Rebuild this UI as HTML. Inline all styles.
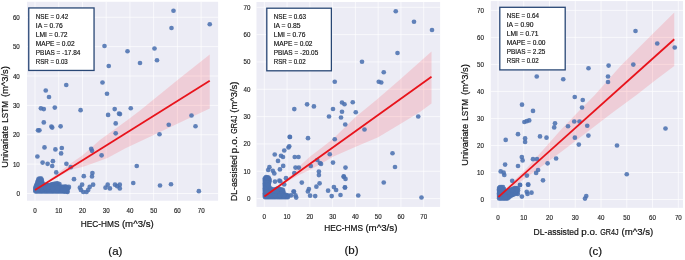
<!DOCTYPE html>
<html><head><meta charset="utf-8"><title>Scatter comparison</title>
<style>
html,body{margin:0;padding:0;background:#fff;}
body{width:685px;height:260px;overflow:hidden;}
svg{display:block;}
text{font-family:"Liberation Sans", sans-serif;fill:#262626;}
.tk{font-size:7px;fill:#1c1c1c;stroke:#1c1c1c;stroke-width:0.15px;}
.bx{font-size:6.3px;fill:#111;stroke:#111;stroke-width:0.15px;}
.lb{font-size:9.6px;fill:#111;stroke:#111;stroke-width:0.2px;}
.cp{font-size:11.5px;fill:#111;stroke:#111;stroke-width:0.2px;}
</style></head><body>
<svg width="685" height="260" viewBox="0 0 685 260">
<rect width="685" height="260" fill="#ffffff"/>
<g id="plot-a">
<rect x="27.0" y="1.8" width="191.1" height="198.9" fill="#ECECF5"/>
<path d="M35.00 1.8V200.7M58.73 1.8V200.7M82.46 1.8V200.7M106.19 1.8V200.7M129.92 1.8V200.7M153.65 1.8V200.7M177.38 1.8V200.7M201.11 1.8V200.7M27.0 193.50H218.1M27.0 164.13H218.1M27.0 134.76H218.1M27.0 105.39H218.1M27.0 76.02H218.1M27.0 46.65H218.1M27.0 17.28H218.1" stroke="#ffffff" stroke-width="0.8" stroke-opacity="0.85" fill="none"/>
<polygon points="35,189.2 50,179.3 57,174 64.8,167.8 70.6,163.4 82.3,155.4 92.5,146.5 99.9,140 127.5,120 140,110.5 180,78 209.75,54.5 209.75,108.5 180,122.5 150,136.8 126,148 107.5,158 92.5,163.4 82.3,167 71.9,169.5 65,173 55,178.8 35,190.8" fill="#ff2030" fill-opacity="0.15"/>
<g fill="#4C72B0" fill-opacity="0.88">
<circle cx="104.5" cy="46" r="2.35"/><circle cx="127.5" cy="51.25" r="2.35"/><circle cx="154.5" cy="48.5" r="2.35"/><circle cx="157" cy="60.25" r="2.35"/><circle cx="140" cy="63" r="2.35"/><circle cx="108.75" cy="66" r="2.35"/>
<circle cx="171.5" cy="28" r="2.35"/><circle cx="173.5" cy="10.75" r="2.35"/><circle cx="209.75" cy="24.25" r="2.35"/><circle cx="66.25" cy="85" r="2.35"/><circle cx="102.5" cy="82.5" r="2.35"/><circle cx="45.75" cy="90.5" r="2.35"/>
<circle cx="49" cy="97" r="2.35"/><circle cx="107" cy="93.75" r="2.35"/><circle cx="40.9" cy="108.3" r="2.35"/><circle cx="43.8" cy="109.1" r="2.35"/><circle cx="54.8" cy="107.6" r="2.35"/><circle cx="80.6" cy="110.2" r="2.35"/>
<circle cx="114.7" cy="109.1" r="2.35"/><circle cx="130.75" cy="108.25" r="2.35"/><circle cx="108.1" cy="114.9" r="2.35"/><circle cx="119" cy="113.7" r="2.35"/><circle cx="120" cy="114.1" r="2.35"/><circle cx="43.8" cy="122.4" r="2.35"/>
<circle cx="115.7" cy="123.4" r="2.35"/><circle cx="51.4" cy="126.6" r="2.35"/><circle cx="52.2" cy="127.6" r="2.35"/><circle cx="60.6" cy="126.3" r="2.35"/><circle cx="38" cy="130.3" r="2.35"/><circle cx="39.4" cy="130.3" r="2.35"/>
<circle cx="115.7" cy="133.3" r="2.35"/><circle cx="168.75" cy="124.75" r="2.35"/><circle cx="159.5" cy="134.25" r="2.35"/><circle cx="191.5" cy="115.5" r="2.35"/><circle cx="195.5" cy="126.25" r="2.35"/><circle cx="44.5" cy="147.4" r="2.35"/>
<circle cx="55.4" cy="149.4" r="2.35"/><circle cx="61.8" cy="148" r="2.35"/><circle cx="61.1" cy="153.4" r="2.35"/><circle cx="91.2" cy="148.8" r="2.35"/><circle cx="92" cy="150.8" r="2.35"/><circle cx="101.6" cy="155.3" r="2.35"/>
<circle cx="37.4" cy="156.5" r="2.35"/><circle cx="42.6" cy="162.6" r="2.35"/><circle cx="47.6" cy="163.8" r="2.35"/><circle cx="52.9" cy="161.2" r="2.35"/><circle cx="52.2" cy="166" r="2.35"/><circle cx="66.4" cy="163.8" r="2.35"/>
<circle cx="70.8" cy="167.2" r="2.35"/><circle cx="136.75" cy="166" r="2.35"/><circle cx="56.25" cy="172.4" r="2.35"/><circle cx="92.4" cy="173" r="2.35"/><circle cx="83.8" cy="176.2" r="2.35"/><circle cx="92" cy="176.4" r="2.35"/>
<circle cx="74" cy="179.2" r="2.35"/><circle cx="133.25" cy="183" r="2.35"/><circle cx="160" cy="185.5" r="2.35"/><circle cx="171" cy="184.25" r="2.35"/><circle cx="198.85" cy="191.15" r="2.35"/><circle cx="59.4" cy="184" r="2.35"/>
<circle cx="60.9" cy="186.9" r="2.35"/><circle cx="63.1" cy="188.4" r="2.35"/><circle cx="65.3" cy="186.9" r="2.35"/><circle cx="66.3" cy="190.6" r="2.35"/><circle cx="68.2" cy="188.4" r="2.35"/><circle cx="68.9" cy="186.9" r="2.35"/>
<circle cx="67.5" cy="192" r="2.35"/><circle cx="64.5" cy="191.3" r="2.35"/><circle cx="82.1" cy="184.7" r="2.35"/><circle cx="79.9" cy="187.7" r="2.35"/><circle cx="80.9" cy="189.9" r="2.35"/><circle cx="83.3" cy="192" r="2.35"/>
<circle cx="86.5" cy="192" r="2.35"/><circle cx="88.2" cy="189.9" r="2.35"/><circle cx="89.7" cy="186.9" r="2.35"/><circle cx="93.1" cy="184.7" r="2.35"/><circle cx="107.7" cy="184.7" r="2.35"/><circle cx="105.5" cy="187.7" r="2.35"/>
<circle cx="109.9" cy="188.4" r="2.35"/><circle cx="115" cy="184.7" r="2.35"/><circle cx="117.2" cy="186.2" r="2.35"/><circle cx="119.8" cy="184.7" r="2.35"/><circle cx="119.8" cy="188.4" r="2.35"/><circle cx="35.4" cy="191.3" r="2.35"/>
<circle cx="35.4" cy="190.0" r="2.35"/><circle cx="35.4" cy="188.8" r="2.35"/><circle cx="35.4" cy="187.5" r="2.35"/><circle cx="36.0" cy="186.1" r="2.35"/><circle cx="36.6" cy="184.6" r="2.35"/><circle cx="37.2" cy="183.2" r="2.35"/>
<circle cx="37.7" cy="181.8" r="2.35"/><circle cx="38.1" cy="180.3" r="2.35"/><circle cx="38.6" cy="178.9" r="2.35"/><circle cx="40.0" cy="178.5" r="2.35"/><circle cx="41.2" cy="178.7" r="2.35"/><circle cx="41.8" cy="180.0" r="2.35"/>
<circle cx="42.0" cy="181.5" r="2.35"/><circle cx="42.3" cy="183.0" r="2.35"/><circle cx="42.5" cy="184.5" r="2.35"/><circle cx="43.7" cy="184.7" r="2.35"/><circle cx="44.9" cy="184.9" r="2.35"/><circle cx="46.2" cy="185.2" r="2.35"/>
<circle cx="47.4" cy="185.4" r="2.35"/><circle cx="48.6" cy="185.6" r="2.35"/><circle cx="49.8" cy="185.2" r="2.35"/><circle cx="50.9" cy="184.8" r="2.35"/><circle cx="52.1" cy="184.4" r="2.35"/><circle cx="53.2" cy="184.0" r="2.35"/>
<circle cx="54.6" cy="183.8" r="2.35"/><circle cx="56.1" cy="183.6" r="2.35"/><circle cx="57.5" cy="183.4" r="2.35"/><circle cx="58.6" cy="185.5" r="2.35"/><circle cx="58.8" cy="186.8" r="2.35"/><circle cx="59.1" cy="188.0" r="2.35"/>
<circle cx="59.3" cy="189.3" r="2.35"/><circle cx="60.1" cy="188.2" r="2.35"/><circle cx="61.0" cy="187.0" r="2.35"/><circle cx="62.4" cy="186.9" r="2.35"/><circle cx="63.8" cy="186.9" r="2.35"/><circle cx="65.1" cy="186.9" r="2.35"/>
<circle cx="66.5" cy="186.8" r="2.35"/><circle cx="67.3" cy="188.0" r="2.35"/><circle cx="67.2" cy="189.7" r="2.35"/><circle cx="67.2" cy="191.3" r="2.35"/><circle cx="66.0" cy="191.3" r="2.35"/><circle cx="64.8" cy="191.3" r="2.35"/>
<circle cx="63.5" cy="191.3" r="2.35"/><circle cx="62.3" cy="191.3" r="2.35"/><circle cx="61.1" cy="191.3" r="2.35"/><circle cx="59.9" cy="191.3" r="2.35"/><circle cx="58.6" cy="191.3" r="2.35"/><circle cx="57.4" cy="191.3" r="2.35"/>
<circle cx="56.2" cy="191.3" r="2.35"/><circle cx="55.0" cy="191.3" r="2.35"/><circle cx="53.7" cy="191.3" r="2.35"/><circle cx="52.5" cy="191.3" r="2.35"/><circle cx="51.3" cy="191.3" r="2.35"/><circle cx="50.1" cy="191.3" r="2.35"/>
<circle cx="48.9" cy="191.3" r="2.35"/><circle cx="47.6" cy="191.3" r="2.35"/><circle cx="46.4" cy="191.3" r="2.35"/><circle cx="45.2" cy="191.3" r="2.35"/><circle cx="44.0" cy="191.3" r="2.35"/><circle cx="42.7" cy="191.3" r="2.35"/>
<circle cx="41.5" cy="191.3" r="2.35"/><circle cx="40.3" cy="191.3" r="2.35"/><circle cx="39.1" cy="191.3" r="2.35"/><circle cx="37.8" cy="191.3" r="2.35"/><circle cx="36.6" cy="191.3" r="2.35"/><circle cx="39.7" cy="189.3" r="2.35"/>
<circle cx="56.2" cy="188.6" r="2.35"/><circle cx="49.6" cy="187.7" r="2.35"/><circle cx="39.3" cy="182.8" r="2.35"/><circle cx="63.6" cy="189.3" r="2.35"/><circle cx="51.5" cy="186.0" r="2.35"/><circle cx="40.9" cy="185.5" r="2.35"/>
<circle cx="51.6" cy="188.5" r="2.35"/><circle cx="36.8" cy="187.5" r="2.35"/><circle cx="37.2" cy="189.6" r="2.35"/><circle cx="43.5" cy="189.3" r="2.35"/><circle cx="38.9" cy="186.5" r="2.35"/><circle cx="40.8" cy="182.0" r="2.35"/>
<circle cx="54.7" cy="189.0" r="2.35"/><circle cx="40.1" cy="187.7" r="2.35"/><circle cx="57.0" cy="185.5" r="2.35"/><circle cx="42.5" cy="186.8" r="2.35"/><circle cx="45.6" cy="186.6" r="2.35"/><circle cx="45.2" cy="189.5" r="2.35"/>
<circle cx="65.8" cy="189.9" r="2.35"/><circle cx="39.7" cy="185.6" r="2.35"/><circle cx="43.1" cy="188.0" r="2.35"/><circle cx="38.7" cy="190.2" r="2.35"/><circle cx="57.4" cy="187.0" r="2.35"/><circle cx="56.2" cy="186.7" r="2.35"/>
<circle cx="53.9" cy="186.1" r="2.35"/><circle cx="51.1" cy="189.5" r="2.35"/><circle cx="61.0" cy="190.1" r="2.35"/><circle cx="52.9" cy="185.4" r="2.35"/><circle cx="44.2" cy="186.8" r="2.35"/><circle cx="57.5" cy="189.4" r="2.35"/>
<circle cx="47.3" cy="187.5" r="2.35"/><circle cx="55.2" cy="185.3" r="2.35"/><circle cx="48.3" cy="189.5" r="2.35"/><circle cx="54.0" cy="187.9" r="2.35"/><circle cx="64.0" cy="188.1" r="2.35"/><circle cx="65.3" cy="188.5" r="2.35"/>
<circle cx="62.4" cy="188.3" r="2.35"/><circle cx="42.8" cy="185.7" r="2.35"/><circle cx="40.9" cy="188.6" r="2.35"/><circle cx="46.3" cy="189.2" r="2.35"/><circle cx="38.4" cy="183.6" r="2.35"/><circle cx="54.3" cy="190.1" r="2.35"/>
<circle cx="62.2" cy="190.1" r="2.35"/><circle cx="41.8" cy="189.8" r="2.35"/><circle cx="52.5" cy="190.0" r="2.35"/><circle cx="40.4" cy="183.2" r="2.35"/><circle cx="45.8" cy="188.1" r="2.35"/><circle cx="40.6" cy="186.6" r="2.35"/>
<circle cx="38.2" cy="185.4" r="2.35"/><circle cx="53.5" cy="189.3" r="2.35"/><circle cx="38.2" cy="189.1" r="2.35"/><circle cx="39.3" cy="181.1" r="2.35"/><circle cx="50.0" cy="189.2" r="2.35"/><circle cx="40.1" cy="179.9" r="2.35"/>
<circle cx="52.6" cy="187.1" r="2.35"/><circle cx="56.5" cy="190.2" r="2.35"/><circle cx="41.6" cy="187.5" r="2.35"/><circle cx="55.1" cy="187.2" r="2.35"/><circle cx="57.5" cy="188.2" r="2.35"/><circle cx="37.7" cy="186.7" r="2.35"/>
<circle cx="38.9" cy="187.7" r="2.35"/><circle cx="47.5" cy="188.7" r="2.35"/><circle cx="51.0" cy="187.3" r="2.35"/><circle cx="49.4" cy="186.6" r="2.35"/><circle cx="40.5" cy="184.4" r="2.35"/><circle cx="48.4" cy="187.2" r="2.35"/>
<circle cx="64.4" cy="190.2" r="2.35"/><circle cx="52.8" cy="188.4" r="2.35"/>
</g>
<line x1="35.05" y1="189.9" x2="209.75" y2="80.75" stroke="#e8131b" stroke-width="1.8" stroke-linecap="butt"/>
<rect x="28.75" y="7.95" width="65.3" height="62.5" fill="#ffffff" stroke="#294775" stroke-width="1.3"/>
<text class="bx" x="35.8" y="18.60" textLength="32.4" lengthAdjust="spacingAndGlyphs">NSE = 0.42</text>
<text class="bx" x="35.8" y="27.60" textLength="26.9" lengthAdjust="spacingAndGlyphs">IA = 0.76</text>
<text class="bx" x="35.8" y="36.60" textLength="31.8" lengthAdjust="spacingAndGlyphs">LMI = 0.72</text>
<text class="bx" x="35.8" y="45.60" textLength="38.8" lengthAdjust="spacingAndGlyphs">MAPE = 0.02</text>
<text class="bx" x="35.8" y="54.60" textLength="44.6" lengthAdjust="spacingAndGlyphs">PBIAS = -17.84</text>
<text class="bx" x="35.8" y="63.60" textLength="32.0" lengthAdjust="spacingAndGlyphs">RSR = 0.03</text>
<text class="tk" x="33.3" y="212.9" textLength="3.5" lengthAdjust="spacingAndGlyphs">0</text>
<text class="tk" x="55.3" y="212.9" textLength="6.9" lengthAdjust="spacingAndGlyphs">10</text>
<text class="tk" x="79.0" y="212.9" textLength="6.9" lengthAdjust="spacingAndGlyphs">20</text>
<text class="tk" x="102.7" y="212.9" textLength="6.9" lengthAdjust="spacingAndGlyphs">30</text>
<text class="tk" x="126.5" y="212.9" textLength="6.9" lengthAdjust="spacingAndGlyphs">40</text>
<text class="tk" x="150.2" y="212.9" textLength="6.9" lengthAdjust="spacingAndGlyphs">50</text>
<text class="tk" x="173.9" y="212.9" textLength="6.9" lengthAdjust="spacingAndGlyphs">60</text>
<text class="tk" x="197.7" y="212.9" textLength="6.9" lengthAdjust="spacingAndGlyphs">70</text>
<text class="tk" x="16.4" y="196.0" textLength="3.5" lengthAdjust="spacingAndGlyphs">0</text>
<text class="tk" x="12.9" y="166.6" textLength="6.9" lengthAdjust="spacingAndGlyphs">10</text>
<text class="tk" x="12.9" y="137.3" textLength="6.9" lengthAdjust="spacingAndGlyphs">20</text>
<text class="tk" x="12.9" y="107.9" textLength="6.9" lengthAdjust="spacingAndGlyphs">30</text>
<text class="tk" x="12.9" y="78.5" textLength="6.9" lengthAdjust="spacingAndGlyphs">40</text>
<text class="tk" x="12.9" y="49.2" textLength="6.9" lengthAdjust="spacingAndGlyphs">50</text>
<text class="tk" x="12.9" y="19.8" textLength="6.9" lengthAdjust="spacingAndGlyphs">60</text>
<text class="lb" y="227.4"><tspan x="80.7" textLength="38.8" lengthAdjust="spacingAndGlyphs">HEC-HMS</tspan> <tspan x="121.9" textLength="31.9" lengthAdjust="spacingAndGlyphs">(m^3/s)</tspan> </text>
<text class="lb" transform="translate(8.3,167.8) rotate(-90)" y="0"><tspan x="0.0" textLength="41.9" lengthAdjust="spacingAndGlyphs">Univariate</tspan> <tspan x="45.1" textLength="21.6" lengthAdjust="spacingAndGlyphs">LSTM</tspan> <tspan x="70.7" textLength="31.0" lengthAdjust="spacingAndGlyphs">(m^3/s)</tspan> </text>
<text class="cp" x="115.4" y="254.8" text-anchor="middle">(a)</text>
</g>
<g id="plot-b">
<rect x="256.5" y="2" width="183.6" height="204.9" fill="#ECECF5"/>
<path d="M264.30 2V206.9M287.07 2V206.9M309.84 2V206.9M332.61 2V206.9M355.38 2V206.9M378.15 2V206.9M400.92 2V206.9M423.69 2V206.9M256.5 198.60H440.1M256.5 171.27H440.1M256.5 143.94H440.1M256.5 116.61H440.1M256.5 89.28H440.1M256.5 61.95H440.1M256.5 34.62H440.1M256.5 7.29H440.1" stroke="#ffffff" stroke-width="0.8" stroke-opacity="0.85" fill="none"/>
<polygon points="264.4,196 280,184 291.9,174.5 299.2,166.5 309.5,157 320,149 332.9,139 355.5,117 376.3,100 400,79.5 431.5,51.5 431.5,103.5 420,112 401.1,123.4 378.2,137.3 356.3,146.5 332.9,156.8 318.2,165.5 309.5,170 300,174.5 290,180 280,186.5 264.4,197.3" fill="#ff2030" fill-opacity="0.15"/>
<g fill="#4C72B0" fill-opacity="0.88">
<circle cx="334.75" cy="81.75" r="2.35"/><circle cx="307.1" cy="104.3" r="2.35"/><circle cx="294.3" cy="109.1" r="2.35"/><circle cx="313.9" cy="106.4" r="2.35"/><circle cx="333" cy="109" r="2.35"/><circle cx="342" cy="102.5" r="2.35"/>
<circle cx="342" cy="111.75" r="2.35"/><circle cx="329" cy="116.5" r="2.35"/><circle cx="341" cy="117.5" r="2.35"/><circle cx="290" cy="137" r="2.35"/><circle cx="308" cy="138.2" r="2.35"/><circle cx="334.75" cy="139.25" r="2.35"/>
<circle cx="289.25" cy="146.25" r="2.35"/><circle cx="288.5" cy="147.5" r="2.35"/><circle cx="284.25" cy="150.5" r="2.35"/><circle cx="274.75" cy="154.5" r="2.35"/><circle cx="281" cy="155.75" r="2.35"/><circle cx="283" cy="157" r="2.35"/>
<circle cx="294.75" cy="157" r="2.35"/><circle cx="298.5" cy="157" r="2.35"/><circle cx="278" cy="160.9" r="2.35"/><circle cx="317.25" cy="160" r="2.35"/><circle cx="319.9" cy="163" r="2.35"/><circle cx="321" cy="163.9" r="2.35"/>
<circle cx="333" cy="162.6" r="2.35"/><circle cx="329.75" cy="154.25" r="2.35"/><circle cx="283.2" cy="165.9" r="2.35"/><circle cx="279.9" cy="169.4" r="2.35"/><circle cx="269.4" cy="167.2" r="2.35"/><circle cx="268.2" cy="170" r="2.35"/>
<circle cx="272.8" cy="170.8" r="2.35"/><circle cx="295.5" cy="167.6" r="2.35"/><circle cx="298.8" cy="167.6" r="2.35"/><circle cx="310.8" cy="166" r="2.35"/><circle cx="294.3" cy="173.1" r="2.35"/><circle cx="318.9" cy="171.5" r="2.35"/>
<circle cx="318.9" cy="175.1" r="2.35"/><circle cx="274.3" cy="173.4" r="2.35"/><circle cx="280.25" cy="181.25" r="2.35"/><circle cx="286" cy="178.2" r="2.35"/><circle cx="301.8" cy="182.6" r="2.35"/><circle cx="319.6" cy="183.3" r="2.35"/>
<circle cx="284.2" cy="184.5" r="2.35"/><circle cx="275" cy="181.6" r="2.35"/><circle cx="279.4" cy="180.5" r="2.35"/><circle cx="308.9" cy="189.1" r="2.35"/><circle cx="307.9" cy="191.4" r="2.35"/><circle cx="310.1" cy="195.7" r="2.35"/>
<circle cx="315.2" cy="196.1" r="2.35"/><circle cx="316.4" cy="186.7" r="2.35"/><circle cx="328.1" cy="190.7" r="2.35"/><circle cx="331.7" cy="196.1" r="2.35"/><circle cx="333.9" cy="187.1" r="2.35"/><circle cx="336.1" cy="190" r="2.35"/>
<circle cx="340.5" cy="195" r="2.35"/><circle cx="344.9" cy="187.4" r="2.35"/><circle cx="343.7" cy="176.4" r="2.35"/><circle cx="345.5" cy="178.9" r="2.35"/><circle cx="345.5" cy="167.6" r="2.35"/><circle cx="293.5" cy="191.5" r="2.35"/>
<circle cx="287.4" cy="196.1" r="2.35"/><circle cx="291" cy="195.4" r="2.35"/><circle cx="294" cy="191.7" r="2.35"/><circle cx="295.5" cy="195.4" r="2.35"/><circle cx="296.2" cy="197.6" r="2.35"/><circle cx="395.75" cy="11.25" r="2.35"/>
<circle cx="414" cy="21.75" r="2.35"/><circle cx="432" cy="30" r="2.35"/><circle cx="397.5" cy="53" r="2.35"/><circle cx="362" cy="61.75" r="2.35"/><circle cx="383.75" cy="72.25" r="2.35"/><circle cx="378.75" cy="81.75" r="2.35"/>
<circle cx="381.25" cy="82.5" r="2.35"/><circle cx="352.75" cy="102.25" r="2.35"/><circle cx="344.5" cy="104.25" r="2.35"/><circle cx="355.75" cy="112.25" r="2.35"/><circle cx="418.25" cy="116.5" r="2.35"/><circle cx="345.25" cy="124.5" r="2.35"/>
<circle cx="364.5" cy="129.5" r="2.35"/><circle cx="392.5" cy="153.25" r="2.35"/><circle cx="395" cy="167" r="2.35"/><circle cx="343.75" cy="176.75" r="2.35"/><circle cx="383.75" cy="182.5" r="2.35"/><circle cx="345" cy="187.5" r="2.35"/>
<circle cx="358.25" cy="195.5" r="2.35"/><circle cx="421.5" cy="197.5" r="2.35"/><circle cx="289.7" cy="136.9" r="2.35"/><circle cx="264.9" cy="178.3" r="2.35"/><circle cx="266.0" cy="177.2" r="2.35"/><circle cx="267.2" cy="177.4" r="2.35"/>
<circle cx="268.5" cy="177.6" r="2.35"/><circle cx="269.1" cy="178.8" r="2.35"/><circle cx="269.6" cy="180.0" r="2.35"/><circle cx="269.3" cy="181.3" r="2.35"/><circle cx="269.1" cy="182.7" r="2.35"/><circle cx="268.8" cy="184.0" r="2.35"/>
<circle cx="268.9" cy="185.8" r="2.35"/><circle cx="269.0" cy="187.5" r="2.35"/><circle cx="270.3" cy="188.3" r="2.35"/><circle cx="271.7" cy="189.2" r="2.35"/><circle cx="273.0" cy="190.0" r="2.35"/><circle cx="274.2" cy="189.7" r="2.35"/>
<circle cx="275.5" cy="189.3" r="2.35"/><circle cx="276.8" cy="188.9" r="2.35"/><circle cx="278.0" cy="188.6" r="2.35"/><circle cx="279.2" cy="188.9" r="2.35"/><circle cx="280.5" cy="189.3" r="2.35"/><circle cx="281.8" cy="189.7" r="2.35"/>
<circle cx="283.0" cy="190.0" r="2.35"/><circle cx="283.2" cy="191.5" r="2.35"/><circle cx="283.5" cy="193.0" r="2.35"/><circle cx="283.7" cy="194.5" r="2.35"/><circle cx="285.1" cy="194.8" r="2.35"/><circle cx="286.6" cy="195.2" r="2.35"/>
<circle cx="288.0" cy="195.5" r="2.35"/><circle cx="288.0" cy="197.1" r="2.35"/><circle cx="286.8" cy="197.1" r="2.35"/><circle cx="285.6" cy="197.1" r="2.35"/><circle cx="284.4" cy="197.1" r="2.35"/><circle cx="283.1" cy="197.1" r="2.35"/>
<circle cx="281.9" cy="197.1" r="2.35"/><circle cx="280.7" cy="197.1" r="2.35"/><circle cx="279.5" cy="197.1" r="2.35"/><circle cx="278.3" cy="197.1" r="2.35"/><circle cx="277.1" cy="197.1" r="2.35"/><circle cx="275.8" cy="197.1" r="2.35"/>
<circle cx="274.6" cy="197.1" r="2.35"/><circle cx="273.4" cy="197.1" r="2.35"/><circle cx="272.2" cy="197.1" r="2.35"/><circle cx="271.0" cy="197.1" r="2.35"/><circle cx="269.8" cy="197.1" r="2.35"/><circle cx="268.5" cy="197.1" r="2.35"/>
<circle cx="267.3" cy="197.1" r="2.35"/><circle cx="266.1" cy="197.1" r="2.35"/><circle cx="264.9" cy="197.1" r="2.35"/><circle cx="264.9" cy="195.8" r="2.35"/><circle cx="264.9" cy="194.6" r="2.35"/><circle cx="264.9" cy="193.3" r="2.35"/>
<circle cx="264.9" cy="192.1" r="2.35"/><circle cx="264.9" cy="190.8" r="2.35"/><circle cx="264.9" cy="189.6" r="2.35"/><circle cx="264.9" cy="188.3" r="2.35"/><circle cx="264.9" cy="187.1" r="2.35"/><circle cx="264.9" cy="185.8" r="2.35"/>
<circle cx="264.9" cy="184.6" r="2.35"/><circle cx="264.9" cy="183.3" r="2.35"/><circle cx="264.9" cy="182.1" r="2.35"/><circle cx="264.9" cy="180.8" r="2.35"/><circle cx="264.9" cy="179.6" r="2.35"/><circle cx="266.2" cy="178.9" r="2.35"/>
<circle cx="273.7" cy="194.9" r="2.35"/><circle cx="281.9" cy="195.2" r="2.35"/><circle cx="276.2" cy="195.6" r="2.35"/><circle cx="276.5" cy="193.7" r="2.35"/><circle cx="278.0" cy="195.5" r="2.35"/><circle cx="270.1" cy="194.6" r="2.35"/>
<circle cx="267.4" cy="187.6" r="2.35"/><circle cx="274.7" cy="191.5" r="2.35"/><circle cx="268.9" cy="190.6" r="2.35"/><circle cx="279.1" cy="192.0" r="2.35"/><circle cx="267.5" cy="183.9" r="2.35"/><circle cx="267.3" cy="186.1" r="2.35"/>
<circle cx="267.1" cy="189.8" r="2.35"/><circle cx="279.3" cy="193.1" r="2.35"/><circle cx="267.2" cy="180.8" r="2.35"/><circle cx="266.6" cy="182.9" r="2.35"/><circle cx="266.7" cy="192.2" r="2.35"/><circle cx="267.7" cy="179.6" r="2.35"/>
<circle cx="266.8" cy="194.1" r="2.35"/><circle cx="280.4" cy="190.8" r="2.35"/><circle cx="282.5" cy="194.2" r="2.35"/><circle cx="270.1" cy="189.6" r="2.35"/><circle cx="269.3" cy="193.2" r="2.35"/><circle cx="276.1" cy="190.6" r="2.35"/>
<circle cx="280.5" cy="192.9" r="2.35"/><circle cx="275.1" cy="194.5" r="2.35"/><circle cx="274.1" cy="193.6" r="2.35"/><circle cx="282.1" cy="192.1" r="2.35"/><circle cx="273.5" cy="192.5" r="2.35"/><circle cx="266.3" cy="180.1" r="2.35"/>
<circle cx="272.2" cy="193.9" r="2.35"/><circle cx="267.9" cy="195.9" r="2.35"/><circle cx="280.6" cy="195.4" r="2.35"/><circle cx="266.0" cy="195.1" r="2.35"/><circle cx="266.1" cy="181.5" r="2.35"/><circle cx="270.2" cy="191.2" r="2.35"/>
<circle cx="278.3" cy="190.0" r="2.35"/><circle cx="268.8" cy="189.2" r="2.35"/><circle cx="265.9" cy="189.0" r="2.35"/><circle cx="270.6" cy="192.9" r="2.35"/><circle cx="268.1" cy="191.9" r="2.35"/><circle cx="277.9" cy="192.1" r="2.35"/>
<circle cx="278.4" cy="193.9" r="2.35"/><circle cx="279.8" cy="194.4" r="2.35"/><circle cx="283.8" cy="195.9" r="2.35"/><circle cx="275.7" cy="192.8" r="2.35"/><circle cx="271.8" cy="195.9" r="2.35"/><circle cx="267.7" cy="178.5" r="2.35"/>
<circle cx="281.6" cy="191.0" r="2.35"/><circle cx="268.6" cy="194.7" r="2.35"/><circle cx="277.1" cy="190.0" r="2.35"/><circle cx="269.9" cy="195.8" r="2.35"/><circle cx="271.8" cy="191.9" r="2.35"/><circle cx="273.0" cy="191.3" r="2.35"/>
<circle cx="267.9" cy="193.4" r="2.35"/><circle cx="266.5" cy="184.6" r="2.35"/><circle cx="271.6" cy="190.6" r="2.35"/><circle cx="267.8" cy="182.5" r="2.35"/><circle cx="281.0" cy="194.1" r="2.35"/><circle cx="266.0" cy="191.3" r="2.35"/>
<circle cx="274.7" cy="195.7" r="2.35"/><circle cx="266.7" cy="196.1" r="2.35"/><circle cx="276.7" cy="191.7" r="2.35"/><circle cx="266.0" cy="186.5" r="2.35"/><circle cx="266.0" cy="187.8" r="2.35"/><circle cx="279.4" cy="195.6" r="2.35"/>
<circle cx="267.9" cy="185.1" r="2.35"/>
</g>
<line x1="264.4" y1="196.6" x2="431.5" y2="76.75" stroke="#e8131b" stroke-width="1.8" stroke-linecap="butt"/>
<rect x="266.8" y="8.2" width="64.6" height="62.6" fill="#ffffff" stroke="#294775" stroke-width="1.3"/>
<text class="bx" x="273.7" y="18.50" textLength="32.4" lengthAdjust="spacingAndGlyphs">NSE = 0.63</text>
<text class="bx" x="273.7" y="27.50" textLength="26.9" lengthAdjust="spacingAndGlyphs">IA = 0.85</text>
<text class="bx" x="273.7" y="36.50" textLength="31.8" lengthAdjust="spacingAndGlyphs">LMI = 0.76</text>
<text class="bx" x="273.7" y="45.50" textLength="38.8" lengthAdjust="spacingAndGlyphs">MAPE = 0.02</text>
<text class="bx" x="273.7" y="54.50" textLength="44.6" lengthAdjust="spacingAndGlyphs">PBIAS = -20.05</text>
<text class="bx" x="273.7" y="63.50" textLength="32.0" lengthAdjust="spacingAndGlyphs">RSR = 0.02</text>
<text class="tk" x="262.6" y="219.4" textLength="3.5" lengthAdjust="spacingAndGlyphs">0</text>
<text class="tk" x="283.6" y="219.4" textLength="6.9" lengthAdjust="spacingAndGlyphs">10</text>
<text class="tk" x="306.4" y="219.4" textLength="6.9" lengthAdjust="spacingAndGlyphs">20</text>
<text class="tk" x="329.2" y="219.4" textLength="6.9" lengthAdjust="spacingAndGlyphs">30</text>
<text class="tk" x="351.9" y="219.4" textLength="6.9" lengthAdjust="spacingAndGlyphs">40</text>
<text class="tk" x="374.7" y="219.4" textLength="6.9" lengthAdjust="spacingAndGlyphs">50</text>
<text class="tk" x="397.5" y="219.4" textLength="6.9" lengthAdjust="spacingAndGlyphs">60</text>
<text class="tk" x="420.2" y="219.4" textLength="6.9" lengthAdjust="spacingAndGlyphs">70</text>
<text class="tk" x="247.1" y="201.1" textLength="3.5" lengthAdjust="spacingAndGlyphs">0</text>
<text class="tk" x="243.6" y="173.8" textLength="6.9" lengthAdjust="spacingAndGlyphs">10</text>
<text class="tk" x="243.6" y="146.4" textLength="6.9" lengthAdjust="spacingAndGlyphs">20</text>
<text class="tk" x="243.6" y="119.1" textLength="6.9" lengthAdjust="spacingAndGlyphs">30</text>
<text class="tk" x="243.6" y="91.8" textLength="6.9" lengthAdjust="spacingAndGlyphs">40</text>
<text class="tk" x="243.6" y="64.4" textLength="6.9" lengthAdjust="spacingAndGlyphs">50</text>
<text class="tk" x="243.6" y="37.1" textLength="6.9" lengthAdjust="spacingAndGlyphs">60</text>
<text class="tk" x="243.6" y="9.8" textLength="6.9" lengthAdjust="spacingAndGlyphs">70</text>
<text class="lb" y="231.2"><tspan x="324.2" textLength="38.8" lengthAdjust="spacingAndGlyphs">HEC-HMS</tspan> <tspan x="365.4" textLength="32.0" lengthAdjust="spacingAndGlyphs">(m^3/s)</tspan> </text>
<text class="lb" transform="translate(236.8,201) rotate(-90)" y="0"><tspan x="0.0" textLength="45.8" lengthAdjust="spacingAndGlyphs">DL-assisted</tspan> <tspan x="47.6" textLength="17.3" lengthAdjust="spacingAndGlyphs">p.o.</tspan> <tspan x="67.2" textLength="18.3" lengthAdjust="spacingAndGlyphs">GR4J</tspan> <tspan x="88.3" textLength="31.2" lengthAdjust="spacingAndGlyphs">(m^3/s)</tspan> </text>
<text class="cp" x="351.5" y="254.4" text-anchor="middle">(b)</text>
</g>
<g id="plot-c">
<rect x="490.8" y="1.1" width="192.2" height="206.7" fill="#ECECF5"/>
<path d="M498.00 1.1V207.8M523.76 1.1V207.8M549.52 1.1V207.8M575.28 1.1V207.8M601.04 1.1V207.8M626.80 1.1V207.8M652.56 1.1V207.8M678.32 1.1V207.8M490.8 199.50H683M490.8 172.48H683M490.8 145.46H683M490.8 118.44H683M490.8 91.42H683M490.8 64.40H683M490.8 37.38H683M490.8 10.36H683" stroke="#ffffff" stroke-width="0.8" stroke-opacity="0.85" fill="none"/>
<polygon points="498.4,196.2 512,182.5 527,168 543,150 560.7,130 578,112 594.8,95 620.5,66 647,39.5 674.25,12.5 674.25,66 655,80.5 636.5,95 612,113 589.2,130.5 565,149 539.5,168 520,182 498.4,197.8" fill="#ff2030" fill-opacity="0.15"/>
<g fill="#4C72B0" fill-opacity="0.88">
<circle cx="635.5" cy="31" r="2.35"/><circle cx="657.25" cy="43.5" r="2.35"/><circle cx="674.75" cy="47.5" r="2.35"/><circle cx="633.3" cy="64.6" r="2.35"/><circle cx="608.6" cy="65.6" r="2.35"/><circle cx="588.5" cy="68.25" r="2.35"/>
<circle cx="536.75" cy="76.5" r="2.35"/><circle cx="563.25" cy="79.25" r="2.35"/><circle cx="608" cy="76.5" r="2.35"/><circle cx="608" cy="82" r="2.35"/><circle cx="574.75" cy="97" r="2.35"/><circle cx="582.75" cy="100" r="2.35"/>
<circle cx="522" cy="104.7" r="2.35"/><circle cx="582" cy="107.5" r="2.35"/><circle cx="533" cy="110.9" r="2.35"/><circle cx="524.4" cy="122" r="2.35"/><circle cx="526.8" cy="121.2" r="2.35"/><circle cx="529.2" cy="120.4" r="2.35"/>
<circle cx="555" cy="123.3" r="2.35"/><circle cx="574.25" cy="121.5" r="2.35"/><circle cx="579.5" cy="121.5" r="2.35"/><circle cx="554.2" cy="127.4" r="2.35"/><circle cx="568" cy="126.25" r="2.35"/><circle cx="587.25" cy="125.75" r="2.35"/>
<circle cx="665.5" cy="128.5" r="2.35"/><circle cx="518" cy="134.2" r="2.35"/><circle cx="525.1" cy="138.4" r="2.35"/><circle cx="525.1" cy="142" r="2.35"/><circle cx="540" cy="136.4" r="2.35"/><circle cx="546.5" cy="137.7" r="2.35"/>
<circle cx="574.9" cy="137.7" r="2.35"/><circle cx="588.4" cy="135.6" r="2.35"/><circle cx="578.8" cy="144.6" r="2.35"/><circle cx="617" cy="145.5" r="2.35"/><circle cx="505.7" cy="139.9" r="2.35"/><circle cx="521.8" cy="157" r="2.35"/>
<circle cx="522.6" cy="160.4" r="2.35"/><circle cx="533" cy="159.2" r="2.35"/><circle cx="537" cy="159.2" r="2.35"/><circle cx="556.1" cy="158.5" r="2.35"/><circle cx="547.6" cy="163.3" r="2.35"/><circle cx="518" cy="166" r="2.35"/>
<circle cx="538.1" cy="170" r="2.35"/><circle cx="536.1" cy="172.9" r="2.35"/><circle cx="526.9" cy="175.6" r="2.35"/><circle cx="626.75" cy="174.25" r="2.35"/><circle cx="543" cy="180.3" r="2.35"/><circle cx="528" cy="184.6" r="2.35"/>
<circle cx="520" cy="185" r="2.35"/><circle cx="526.75" cy="191.75" r="2.35"/><circle cx="531.5" cy="192.7" r="2.35"/><circle cx="586.25" cy="196" r="2.35"/><circle cx="585" cy="198.6" r="2.35"/><circle cx="505.1" cy="164.6" r="2.35"/>
<circle cx="500.7" cy="171.4" r="2.35"/><circle cx="503.6" cy="172.7" r="2.35"/><circle cx="504.3" cy="175" r="2.35"/><circle cx="512.2" cy="180.8" r="2.35"/><circle cx="520" cy="184.9" r="2.35"/><circle cx="528.3" cy="184.7" r="2.35"/>
<circle cx="527.5" cy="193.9" r="2.35"/><circle cx="521.9" cy="196.6" r="2.35"/><circle cx="517.8" cy="193.9" r="2.35"/><circle cx="499.1" cy="198.4" r="2.35"/><circle cx="499.1" cy="197.1" r="2.35"/><circle cx="499.1" cy="195.8" r="2.35"/>
<circle cx="499.1" cy="194.5" r="2.35"/><circle cx="499.1" cy="193.2" r="2.35"/><circle cx="499.1" cy="191.9" r="2.35"/><circle cx="499.1" cy="190.6" r="2.35"/><circle cx="499.1" cy="189.3" r="2.35"/><circle cx="499.1" cy="188.0" r="2.35"/>
<circle cx="500.0" cy="187.0" r="2.35"/><circle cx="501.5" cy="187.1" r="2.35"/><circle cx="503.0" cy="187.2" r="2.35"/><circle cx="504.0" cy="189.0" r="2.35"/><circle cx="504.5" cy="190.5" r="2.35"/><circle cx="505.0" cy="192.0" r="2.35"/>
<circle cx="506.2" cy="191.5" r="2.35"/><circle cx="507.5" cy="191.0" r="2.35"/><circle cx="508.8" cy="190.5" r="2.35"/><circle cx="510.0" cy="190.0" r="2.35"/><circle cx="511.2" cy="189.5" r="2.35"/><circle cx="512.5" cy="189.0" r="2.35"/>
<circle cx="513.8" cy="188.5" r="2.35"/><circle cx="515.0" cy="188.0" r="2.35"/><circle cx="516.5" cy="188.2" r="2.35"/><circle cx="518.0" cy="188.5" r="2.35"/><circle cx="518.0" cy="190.5" r="2.35"/><circle cx="517.3" cy="191.5" r="2.35"/>
<circle cx="516.7" cy="192.5" r="2.35"/><circle cx="516.0" cy="193.5" r="2.35"/><circle cx="514.8" cy="194.0" r="2.35"/><circle cx="513.5" cy="194.6" r="2.35"/><circle cx="512.2" cy="195.1" r="2.35"/><circle cx="511.0" cy="195.6" r="2.35"/>
<circle cx="509.8" cy="196.5" r="2.35"/><circle cx="508.7" cy="197.5" r="2.35"/><circle cx="507.5" cy="198.4" r="2.35"/><circle cx="506.1" cy="198.4" r="2.35"/><circle cx="504.7" cy="198.4" r="2.35"/><circle cx="503.3" cy="198.4" r="2.35"/>
<circle cx="501.9" cy="198.4" r="2.35"/><circle cx="500.5" cy="198.4" r="2.35"/><circle cx="509.4" cy="193.5" r="2.35"/><circle cx="509.3" cy="194.7" r="2.35"/><circle cx="516.0" cy="190.4" r="2.35"/><circle cx="504.8" cy="193.9" r="2.35"/>
<circle cx="514.6" cy="192.5" r="2.35"/><circle cx="506.0" cy="193.6" r="2.35"/><circle cx="502.8" cy="195.6" r="2.35"/><circle cx="501.1" cy="195.5" r="2.35"/><circle cx="500.8" cy="190.9" r="2.35"/><circle cx="500.6" cy="188.7" r="2.35"/>
<circle cx="501.9" cy="196.6" r="2.35"/><circle cx="505.9" cy="196.0" r="2.35"/><circle cx="511.4" cy="193.6" r="2.35"/><circle cx="503.8" cy="194.7" r="2.35"/><circle cx="507.8" cy="196.3" r="2.35"/><circle cx="511.7" cy="191.8" r="2.35"/>
<circle cx="507.4" cy="194.4" r="2.35"/><circle cx="510.6" cy="191.0" r="2.35"/><circle cx="501.1" cy="193.5" r="2.35"/><circle cx="513.9" cy="189.8" r="2.35"/><circle cx="510.6" cy="192.4" r="2.35"/><circle cx="515.2" cy="189.2" r="2.35"/>
<circle cx="504.7" cy="196.5" r="2.35"/><circle cx="500.3" cy="196.5" r="2.35"/><circle cx="508.1" cy="193.3" r="2.35"/><circle cx="503.5" cy="191.2" r="2.35"/><circle cx="513.1" cy="191.5" r="2.35"/><circle cx="502.0" cy="188.8" r="2.35"/>
<circle cx="502.2" cy="190.3" r="2.35"/><circle cx="503.5" cy="192.5" r="2.35"/><circle cx="513.3" cy="193.3" r="2.35"/><circle cx="502.3" cy="194.2" r="2.35"/><circle cx="500.3" cy="192.5" r="2.35"/><circle cx="506.2" cy="194.8" r="2.35"/>
<circle cx="502.3" cy="192.2" r="2.35"/><circle cx="507.0" cy="192.7" r="2.35"/><circle cx="515.0" cy="191.2" r="2.35"/><circle cx="510.5" cy="194.5" r="2.35"/><circle cx="508.5" cy="191.8" r="2.35"/><circle cx="511.9" cy="190.6" r="2.35"/>
<circle cx="517.1" cy="189.6" r="2.35"/><circle cx="507.0" cy="197.2" r="2.35"/><circle cx="503.0" cy="197.1" r="2.35"/><circle cx="500.4" cy="194.3" r="2.35"/><circle cx="503.2" cy="189.9" r="2.35"/><circle cx="504.9" cy="195.3" r="2.35"/>
<circle cx="505.7" cy="197.2" r="2.35"/>
</g>
<line x1="498.4" y1="197" x2="674.25" y2="39.25" stroke="#e8131b" stroke-width="1.8" stroke-linecap="butt"/>
<rect x="499.8" y="7.3" width="65.4" height="62.6" fill="#ffffff" stroke="#294775" stroke-width="1.3"/>
<text class="bx" x="506.7" y="17.70" textLength="32.4" lengthAdjust="spacingAndGlyphs">NSE = 0.64</text>
<text class="bx" x="506.7" y="26.70" textLength="26.9" lengthAdjust="spacingAndGlyphs">IA = 0.90</text>
<text class="bx" x="506.7" y="35.70" textLength="31.8" lengthAdjust="spacingAndGlyphs">LMI = 0.71</text>
<text class="bx" x="506.7" y="44.70" textLength="38.8" lengthAdjust="spacingAndGlyphs">MAPE = 0.00</text>
<text class="bx" x="506.7" y="53.70" textLength="38.6" lengthAdjust="spacingAndGlyphs">PBIAS = 2.25</text>
<text class="bx" x="506.7" y="62.70" textLength="32.0" lengthAdjust="spacingAndGlyphs">RSR = 0.02</text>
<text class="tk" x="496.3" y="219.9" textLength="3.5" lengthAdjust="spacingAndGlyphs">0</text>
<text class="tk" x="520.3" y="219.9" textLength="6.9" lengthAdjust="spacingAndGlyphs">10</text>
<text class="tk" x="546.1" y="219.9" textLength="6.9" lengthAdjust="spacingAndGlyphs">20</text>
<text class="tk" x="571.8" y="219.9" textLength="6.9" lengthAdjust="spacingAndGlyphs">30</text>
<text class="tk" x="597.6" y="219.9" textLength="6.9" lengthAdjust="spacingAndGlyphs">40</text>
<text class="tk" x="623.3" y="219.9" textLength="6.9" lengthAdjust="spacingAndGlyphs">50</text>
<text class="tk" x="649.1" y="219.9" textLength="6.9" lengthAdjust="spacingAndGlyphs">60</text>
<text class="tk" x="674.9" y="219.9" textLength="6.9" lengthAdjust="spacingAndGlyphs">70</text>
<text class="tk" x="480.6" y="202.0" textLength="3.5" lengthAdjust="spacingAndGlyphs">0</text>
<text class="tk" x="477.1" y="175.0" textLength="6.9" lengthAdjust="spacingAndGlyphs">10</text>
<text class="tk" x="477.1" y="148.0" textLength="6.9" lengthAdjust="spacingAndGlyphs">20</text>
<text class="tk" x="477.1" y="120.9" textLength="6.9" lengthAdjust="spacingAndGlyphs">30</text>
<text class="tk" x="477.1" y="93.9" textLength="6.9" lengthAdjust="spacingAndGlyphs">40</text>
<text class="tk" x="477.1" y="66.9" textLength="6.9" lengthAdjust="spacingAndGlyphs">50</text>
<text class="tk" x="477.1" y="39.9" textLength="6.9" lengthAdjust="spacingAndGlyphs">60</text>
<text class="tk" x="477.1" y="12.9" textLength="6.9" lengthAdjust="spacingAndGlyphs">70</text>
<text class="lb" y="235.4"><tspan x="533.6" textLength="45.2" lengthAdjust="spacingAndGlyphs">DL-assisted</tspan> <tspan x="581.2" textLength="16.4" lengthAdjust="spacingAndGlyphs">p.o.</tspan> <tspan x="600.2" textLength="18.4" lengthAdjust="spacingAndGlyphs">GR4J</tspan> <tspan x="621.5" textLength="31.8" lengthAdjust="spacingAndGlyphs">(m^3/s)</tspan> </text>
<text class="lb" transform="translate(468.1,165.8) rotate(-90)" y="0"><tspan x="0.0" textLength="41.9" lengthAdjust="spacingAndGlyphs">Univariate</tspan> <tspan x="45.1" textLength="21.6" lengthAdjust="spacingAndGlyphs">LSTM</tspan> <tspan x="70.7" textLength="31.0" lengthAdjust="spacingAndGlyphs">(m^3/s)</tspan> </text>
<text class="cp" x="595.5" y="254.6" text-anchor="middle">(c)</text>
</g>
</svg>
</body></html>
